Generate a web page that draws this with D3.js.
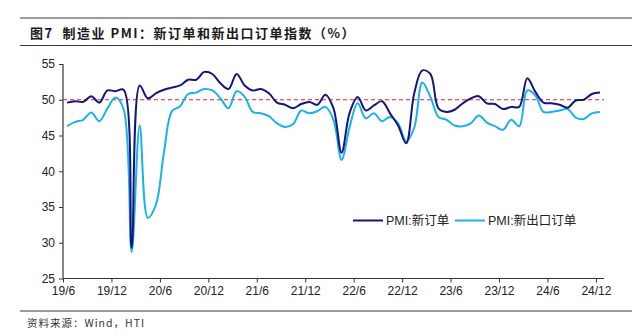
<!DOCTYPE html>
<html>
<head>
<meta charset="utf-8">
<script src="https://cdn.jsdelivr.net/npm/d3@7"></script>
<style>
  html, body { margin: 0; padding: 0; background: #fff; }
  svg { display: block; }
</style>
</head>
<body>
<svg id="chart" width="632" height="336"></svg>
<script>
// Monthly manufacturing PMI sub-indices, 2019/6 – 2024/12
const months = d3.range(0, 67); // 0 = 2019/6
const newOrders = [
  49.6, 49.8, 49.7, 50.5, 49.6, 51.3, 51.2,
  51.4, 29.3, 52.0, 50.2, 50.9, 51.4, 51.7, 52.0, 52.8, 52.8, 53.9, 53.6,
  52.3, 51.5, 53.6, 52.0, 51.3, 51.5, 50.9, 49.6, 49.3, 48.8, 49.4, 49.7,
  49.3, 50.7, 48.8, 42.6, 48.2, 50.4, 48.5, 49.2, 49.8, 48.1, 46.4, 43.9,
  50.9, 54.1, 53.6, 48.8, 48.3, 48.6, 49.5, 50.2, 50.5, 49.5, 49.4, 48.7,
  49.0, 49.0, 53.0, 51.1, 49.6, 49.5, 49.3, 48.9, 49.9, 50.0, 50.8, 51.0
];
const newExportOrders = [
  46.3, 46.9, 47.2, 48.2, 47.0, 48.8, 50.3,
  48.7, 28.7, 46.4, 33.5, 35.3, 42.6, 48.4, 49.1, 50.8, 51.0, 51.5, 51.3,
  50.2, 48.8, 51.2, 50.4, 48.3, 48.1, 47.7, 46.7, 46.2, 46.6, 48.5, 48.1,
  48.4, 49.0, 47.2, 41.6, 46.2, 49.5, 47.4, 48.1, 47.0, 47.6, 46.7, 44.2,
  46.1, 52.4, 50.4, 47.6, 47.2, 46.4, 46.3, 46.7, 47.8, 46.8, 46.3, 45.8,
  47.2, 46.3, 51.3, 50.6, 48.3, 48.3, 48.5, 48.7, 47.5, 47.3, 48.1, 48.3
];
const xTickMonths = [0, 6, 12, 18, 24, 30, 36, 42, 48, 54, 60, 66];
const xTickLabels = ["19/6", "19/12", "20/6", "20/12", "21/6", "21/12", "22/6", "22/12", "23/6", "23/12", "24/6", "24/12"];
const yTicks = [25, 30, 35, 40, 45, 50, 55];
const refLevel = 50;
const seriesNames = ["PMI:新订单", "PMI:新出口订单"];
const seriesColors = ["#14167f", "#19b2ee"];

const svg = d3.select("#chart");
const latin = "'Liberation Sans', Arial, 'Noto Sans CJK SC', sans-serif";
const cjk = "'Noto Sans CJK SC', 'Liberation Sans', sans-serif";

// Header rules and title
svg.append("line").attr("x1", 20).attr("x2", 632).attr("y1", 18).attr("y2", 18)
  .attr("stroke", "#3a3a3a").attr("stroke-width", 1.2);
svg.append("line").attr("x1", 20).attr("x2", 632).attr("y1", 45.5).attr("y2", 45.5)
  .attr("stroke", "#3a3a3a").attr("stroke-width", 1.2);
svg.append("text").attr("x", 30).attr("y", 37.5)
  .attr("font-family", cjk).attr("font-weight", "bold").attr("font-size", 13)
  .attr("letter-spacing", 1.5).style("white-space", "pre")
  .attr("fill", "#1a1a1a")
  .text("图7  制造业 PMI：新订单和新出口订单指数（%）");

// Footer rule and source
svg.append("line").attr("x1", 20).attr("x2", 632).attr("y1", 311).attr("y2", 311)
  .attr("stroke", "#9a9a9a").attr("stroke-width", 2);
svg.append("text").attr("x", 27).attr("y", 327)
  .attr("font-family", cjk).attr("font-size", 10.5).attr("letter-spacing", 1)
  .attr("fill", "#333")
  .text("资料来源：Wind，HTI");

// Scales
const x = d3.scaleLinear().domain([0, 67]).range([63, 604]);
const y = d3.scaleLinear().domain([25, 55]).range([278.5, 64]);

// Axes
const yAxis = d3.axisLeft(y).tickValues(yTicks).tickSize(4).tickPadding(4).tickFormat(d3.format("d"));
const gy = svg.append("g").attr("transform", `translate(${x(0)},0)`).call(yAxis);
const xAxis = d3.axisBottom(x).tickValues(xTickMonths).tickSize(4).tickPadding(4)
  .tickFormat((d, i) => xTickLabels[i]);
const gx = svg.append("g").attr("transform", `translate(0,${y(25)})`).call(xAxis);
[gx, gy].forEach(g => {
  g.select(".domain").attr("stroke", "#333").attr("stroke-width", 1.2);
  g.selectAll(".tick line").attr("stroke", "#333").attr("stroke-width", 1);
  g.selectAll("text").attr("font-family", latin).attr("font-size", 12).attr("fill", "#222");
});
gx.select(".domain").attr("d", `M${x(0)},0H${x(67)}`);
gy.select(".domain").attr("d", `M0,${y(25)}V${y(55)}`);

// Reference line at 50
svg.append("line")
  .attr("x1", x(0)).attr("x2", x(67))
  .attr("y1", y(refLevel)).attr("y2", y(refLevel))
  .attr("stroke", "#e8231f").attr("stroke-width", 1.2)
  .attr("stroke-dasharray", "4,3");

// Smoothed series lines (points centred within each month)
const line = d3.line()
  .x(d => x(d[0] + 0.5))
  .y(d => y(d[1]))
  .curve(d3.curveCatmullRom.alpha(0.5));

[newExportOrders, newOrders].forEach((vals, k) => {
  const idx = k === 0 ? 1 : 0;
  svg.append("path")
    .datum(months.map(m => [m, vals[m]]))
    .attr("fill", "none")
    .attr("stroke", seriesColors[idx])
    .attr("stroke-width", 2)
    .attr("stroke-linejoin", "round")
    .attr("d", line);
});

// Legend
const legendItems = [
  { x: 353, name: seriesNames[0], color: seriesColors[0] },
  { x: 455, name: seriesNames[1], color: seriesColors[1] }
];
const lg = svg.append("g");
legendItems.forEach(it => {
  lg.append("line").attr("x1", it.x).attr("x2", it.x + 30)
    .attr("y1", 220.5).attr("y2", 220.5)
    .attr("stroke", it.color).attr("stroke-width", 2);
  lg.append("text").attr("x", it.x + 33).attr("y", 225)
    .attr("font-family", latin).attr("font-size", 12.5).attr("fill", "#222")
    .text(it.name);
});
</script>
</body>
</html>
